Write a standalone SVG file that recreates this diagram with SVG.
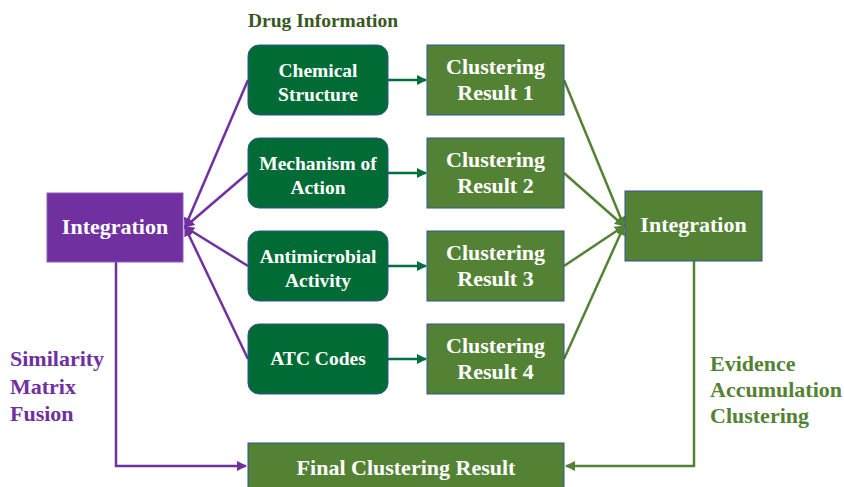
<svg xmlns="http://www.w3.org/2000/svg" width="844" height="487" viewBox="0 0 844 487">
<defs>
<style>
text{font-family:"Liberation Serif","Times New Roman",serif;font-weight:bold;}
.info rect{fill:#006B35;stroke:#2F5597;stroke-width:1;}
.info text{fill:#fff;font-size:19.5px;text-anchor:middle;}
.res rect{fill:#548235;stroke:#2F5597;stroke-width:1;}
.res text{fill:#fff;font-size:22px;text-anchor:middle;}
.pl{stroke:#7030A0;stroke-width:2.5;fill:none;}
.gl{stroke:#548235;stroke-width:2.5;fill:none;}
.dl{stroke:#00703C;stroke-width:2.5;fill:none;}
</style>
<marker id="ap" viewBox="0 0 10 10" refX="9" refY="5" markerWidth="4" markerHeight="4" orient="auto" markerUnits="strokeWidth"><path d="M0,0L10,5L0,10z" fill="#7030A0"/></marker>
<marker id="ag" viewBox="0 0 10 10" refX="9" refY="5" markerWidth="4" markerHeight="4" orient="auto" markerUnits="strokeWidth"><path d="M0,0L10,5L0,10z" fill="#548235"/></marker>
<marker id="ad" viewBox="0 0 10 10" refX="9" refY="5" markerWidth="4" markerHeight="4" orient="auto" markerUnits="strokeWidth"><path d="M0,0L10,5L0,10z" fill="#00703C"/></marker>
</defs>
<rect width="844" height="487" fill="#fff"/>
<g id="connectors">
<line class="dl" x1="388" y1="80" x2="426" y2="80" marker-end="url(#ad)"/>
<line class="dl" x1="388" y1="173" x2="426" y2="173" marker-end="url(#ad)"/>
<line class="dl" x1="388" y1="266" x2="426" y2="266" marker-end="url(#ad)"/>
<line class="dl" x1="388" y1="359" x2="426" y2="359" marker-end="url(#ad)"/>
<line class="pl" x1="248" y1="80" x2="185" y2="227" marker-end="url(#ap)"/>
<line class="pl" x1="248" y1="173" x2="185" y2="227" marker-end="url(#ap)"/>
<line class="pl" x1="248" y1="266" x2="185" y2="227" marker-end="url(#ap)"/>
<line class="pl" x1="248" y1="359" x2="185" y2="227" marker-end="url(#ap)"/>
<line class="gl" x1="564" y1="80" x2="624" y2="226" marker-end="url(#ag)"/>
<line class="gl" x1="564" y1="173" x2="624" y2="226" marker-end="url(#ag)"/>
<line class="gl" x1="564" y1="266" x2="624" y2="226" marker-end="url(#ag)"/>
<line class="gl" x1="564" y1="359" x2="624" y2="226" marker-end="url(#ag)"/>
<path class="pl" d="M116,262V466H246" marker-end="url(#ap)"/>
<path class="gl" d="M694,261V466H566" marker-end="url(#ag)"/>
</g>
<text x="248" y="27" font-size="19.5" fill="#385723">Drug Information</text>
<g id="chem" class="info"><rect x="248" y="45" width="140" height="70" rx="11"/><text x="318" y="77">Chemical</text><text x="318" y="101">Structure</text></g>
<g id="moa" class="info"><rect x="248" y="138" width="140" height="70" rx="11"/><text x="318" y="170">Mechanism of</text><text x="318" y="194">Action</text></g>
<g id="amr" class="info"><rect x="248" y="231" width="140" height="70" rx="11"/><text x="318" y="263">Antimicrobial</text><text x="318" y="287">Activity</text></g>
<g id="atc" class="info"><rect x="248" y="324" width="140" height="70" rx="11"/><text x="318" y="365">ATC Codes</text></g>
<g id="res1" class="res"><rect x="427" y="45" width="137" height="70"/><text x="495.5" y="74">Clustering</text><text x="495.5" y="100">Result 1</text></g>
<g id="res2" class="res"><rect x="427" y="138" width="137" height="70"/><text x="495.5" y="167">Clustering</text><text x="495.5" y="193">Result 2</text></g>
<g id="res3" class="res"><rect x="427" y="231" width="137" height="70"/><text x="495.5" y="260">Clustering</text><text x="495.5" y="286">Result 3</text></g>
<g id="res4" class="res"><rect x="427" y="324" width="137" height="70"/><text x="495.5" y="353">Clustering</text><text x="495.5" y="379">Result 4</text></g>
<g id="intp"><rect x="47" y="193" width="136" height="69" fill="#7030A0" stroke="#8E5CC0" stroke-width="1"/><text x="115" y="234" font-size="22" fill="#fff" text-anchor="middle">Integration</text></g>
<g id="intg" class="res"><rect x="625" y="191" width="137" height="70"/><text x="693.5" y="232">Integration</text></g>
<g id="final" class="res"><rect x="248" y="443" width="316" height="46"/><text x="406" y="475" font-size="20">Final Clustering Result</text></g>
<g id="lblp" font-size="22" fill="#7030A0"><text x="10" y="366">Similarity</text><text x="10" y="394">Matrix</text><text x="10" y="421">Fusion</text></g>
<g id="lblg" font-size="22" fill="#548235"><text x="710" y="371">Evidence</text><text x="710" y="397">Accumulation</text><text x="710" y="423">Clustering</text></g>
</svg>
